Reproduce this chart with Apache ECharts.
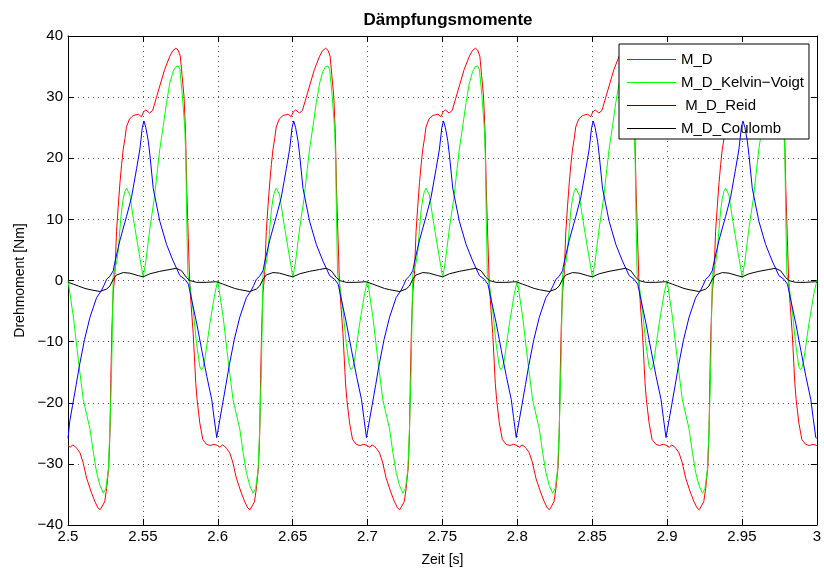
<!DOCTYPE html>
<html>
<head>
<meta charset="utf-8">
<title>Dämpfungsmomente</title>
<script src="https://cdn.jsdelivr.net/npm/echarts@6/dist/echarts.min.js"></script>
<style>
  html, body { margin: 0; padding: 0; background: #fff; }
  #chart { width: 824px; height: 572px; }
</style>
</head>
<body>
<div id="chart"></div>
<script>
// One steady-state period (0.1 s) of each damping torque, as [phase in s, torque in Nm].
const periodMD = [
  [0.000, -27.0], [0.0015, -27.3], [0.003, -26.9], [0.0045, -27.1], [0.006, -27.5],
  [0.008, -28.2], [0.010, -29.7], [0.0125, -32.4], [0.0155, -34.6], [0.018, -36.2],
  [0.020, -37.2], [0.0215, -37.5], [0.0228, -37.2], [0.0245, -36.2], [0.0258, -34.0],
  [0.0272, -30.5], [0.028, -25.0], [0.0286, -16.0], [0.0293, -8.0], [0.0302, -2.0],
  [0.0313, 1.0], [0.0324, 8.0], [0.0335, 12.0], [0.0347, 16.0], [0.0358, 19.0],
  [0.0369, 21.5], [0.038, 23.2], [0.039, 25.1], [0.041, 26.4], [0.0436, 27.0],
  [0.047, 27.2], [0.049, 26.8], [0.0505, 27.6], [0.052, 27.9], [0.0545, 27.4],
  [0.0565, 27.8], [0.059, 29.9], [0.0615, 32.0], [0.0645, 34.5], [0.068, 36.7],
  [0.070, 37.6], [0.072, 38.0], [0.0735, 37.7], [0.075, 36.7], [0.0762, 33.5],
  [0.0775, 30.0], [0.0785, 24.0], [0.0793, 15.0], [0.0803, 7.0], [0.0812, 0.0],
  [0.0822, -4.0], [0.0836, -8.7], [0.0853, -16.8], [0.0862, -19.5], [0.088, -23.3],
  [0.090, -26.0], [0.0925, -26.8], [0.095, -27.0], [0.0975, -26.8]
];

const periodKelvinVoigt = [
  [0.000, 0.0], [0.0036, -6.0], [0.0069, -13.0], [0.0102, -19.5], [0.0147, -24.3],
  [0.0169, -28.1], [0.0191, -31.4], [0.0213, -33.5], [0.0236, -34.8], [0.0253, -34.0],
  [0.0269, -31.0], [0.028, -24.3], [0.0291, -15.0], [0.0302, 1.0], [0.0325, 3.0],
  [0.0336, 5.0], [0.0347, 8.5], [0.0358, 11.5], [0.0369, 13.4], [0.038, 14.6],
  [0.0391, 15.1], [0.0402, 14.8], [0.0413, 14.0], [0.0436, 10.2], [0.0469, 5.3],
  [0.0491, 2.1], [0.0502, 0.5], [0.052, 3.2], [0.0547, 8.6], [0.0576, 13.4],
  [0.0598, 18.3], [0.0613, 21.5], [0.0636, 25.3], [0.0658, 29.1], [0.068, 32.3],
  [0.0702, 34.2], [0.072, 35.0], [0.0736, 35.1], [0.0747, 34.5], [0.0764, 30.2],
  [0.078, 24.8], [0.0787, 19.9], [0.0793, 10.0], [0.080, 1.0], [0.0813, -0.6],
  [0.0836, -4.9], [0.0858, -10.3], [0.088, -14.1], [0.0891, -14.6], [0.0902, -14.2],
  [0.0913, -13.0], [0.0947, -7.1], [0.098, -2.2]
];

const periodReid = [
  [0.000, -25.8], [0.0012, -23.0], [0.003, -20.5], [0.0055, -17.0], [0.0075, -14.1],
  [0.011, -9.7], [0.0147, -6.0], [0.0191, -2.8], [0.0224, -1.6], [0.024, -0.8],
  [0.0258, 0.2], [0.028, 0.7], [0.0302, 1.6], [0.0315, 3.2], [0.0347, 6.6],
  [0.0391, 10.5], [0.0424, 13.6], [0.0458, 18.3], [0.048, 21.5], [0.0496, 25.0],
  [0.0507, 26.1], [0.052, 25.0], [0.0536, 22.8], [0.0547, 20.5], [0.0569, 15.1],
  [0.0613, 9.7], [0.0658, 5.9], [0.0702, 3.2], [0.0747, 0.8], [0.078, 0.2],
  [0.0804, -0.6], [0.0827, -3.3], [0.086, -7.1], [0.0893, -11.4], [0.0927, -15.7],
  [0.096, -19.5], [0.0975, -22.4], [0.0993, -25.7]
];

const periodCoulomb = [
  [0.000, -0.3], [0.0036, -0.6], [0.0069, -0.9], [0.0113, -1.3], [0.0147, -1.5],
  [0.0213, -1.8], [0.0258, -1.4], [0.028, -0.9], [0.0302, 0.2], [0.0324, 0.9],
  [0.0369, 1.3], [0.0413, 1.2], [0.0469, 0.8], [0.0502, 0.6], [0.0547, 1.1],
  [0.0613, 1.5], [0.068, 1.8], [0.0724, 2.0], [0.0758, 1.6], [0.0791, 0.5],
  [0.0813, 0.0], [0.0858, -0.3], [0.0924, -0.3], [0.0991, -0.2]
];

// Start times of the simulated cycles inside the shown window 2.5 s .. 3 s.
const cycleStarts = [2.5, 2.6, 2.7, 2.8, 2.9, 3.0];
const timeMin = 2.5;
const timeMax = 3.0;

const seriesNames = ['M_D', 'M_D_Kelvin\u2212Voigt', ' M_D_Reid', 'M_D_Coulomb'];
const seriesColors = ['#ff0000', '#00ff00', '#0000ff', '#000000'];
const yTicks = [-40, -30, -20, -10, 0, 10, 20, 30, 40];

function buildSeriesData(period) {
  const out = [];
  cycleStarts.forEach(function (t0) {
    period.forEach(function (p) {
      const t = +(t0 + p[0]).toFixed(5);
      if (t <= timeMax + 1e-9) out.push([t, p[1]]);
    });
  });
  return out;
}

const periods = [periodMD, periodKelvinVoigt, periodReid, periodCoulomb];

const FONT = '"Liberation Sans", Arial, Helvetica, sans-serif';
const gridLine = { show: true, lineStyle: { color: '#555', width: 1, type: [1, 4] } };
const axisLine = { show: true, onZero: false, lineStyle: { color: '#000', width: 1 } };
const tickIn = { show: true, inside: true, length: 6, lineStyle: { color: '#000' } };

const chart = echarts.init(document.getElementById('chart'), null, { renderer: 'canvas' });

chart.setOption({
  animation: false,
  backgroundColor: '#fff',
  title: {
    text: 'Dämpfungsmomente',
    left: 443,
    top: 7,
    textAlign: 'center',
    textStyle: { fontFamily: FONT, fontSize: 17, fontWeight: 'bold', color: '#000' }
  },
  grid: { left: 68, right: 6, top: 36, bottom: 42, containLabel: false },
  legend: {
    data: seriesNames.map(function (n) { return { name: n, icon: 'rect' }; }),
    orient: 'vertical',
    left: 619,
    top: 44,
    padding: [8, 5, 3, 8],
    itemGap: 8,
    itemWidth: 49,
    itemHeight: 1,
    backgroundColor: '#fff',
    borderColor: '#000',
    borderWidth: 1,
    borderRadius: 0,
    textStyle: { fontFamily: FONT, fontSize: 15, lineHeight: 14, color: '#000' }
  },
  xAxis: [
    {
      type: 'value',
      min: timeMin,
      max: timeMax,
      interval: 0.05,
      name: 'Zeit [s]',
      nameLocation: 'middle',
      nameGap: 28,
      nameTextStyle: { fontFamily: FONT, fontSize: 14, color: '#000' },
      axisLine: axisLine,
      axisTick: tickIn,
      splitLine: gridLine,
      axisLabel: {
        fontFamily: FONT, fontSize: 15, color: '#000', margin: 4,
        formatter: function (v) { return String(+v.toFixed(2)); }
      }
    },
    {
      type: 'value', position: 'top', min: timeMin, max: timeMax, interval: 0.05,
      axisLine: axisLine, axisTick: tickIn, axisLabel: { show: false }, splitLine: { show: false }
    }
  ],
  yAxis: [
    {
      type: 'value',
      min: yTicks[0],
      max: yTicks[yTicks.length - 1],
      interval: 10,
      name: 'Drehmoment [Nm]',
      nameLocation: 'middle',
      nameGap: 35,
      nameTextStyle: { fontFamily: FONT, fontSize: 14, color: '#000' },
      axisLine: axisLine,
      axisTick: tickIn,
      splitLine: gridLine,
      axisLabel: {
        fontFamily: FONT, fontSize: 15, color: '#000', margin: 5,
        formatter: function (v) { return String(v).replace('-', '\u2212'); }
      }
    },
    {
      type: 'value', position: 'right', min: yTicks[0], max: yTicks[yTicks.length - 1], interval: 10,
      axisLine: axisLine, axisTick: tickIn, axisLabel: { show: false }, splitLine: { show: false }
    }
  ],
  series: periods.map(function (period, i) {
    return {
      name: seriesNames[i],
      type: 'line',
      data: buildSeriesData(period),
      symbol: 'none',
      showSymbol: false,
      clip: true,
      lineStyle: { color: seriesColors[i], width: 1 },
      itemStyle: { color: seriesColors[i] },
      emphasis: { disabled: true },
      z: 2 + i
    };
  })
});
</script>
</body>
</html>
